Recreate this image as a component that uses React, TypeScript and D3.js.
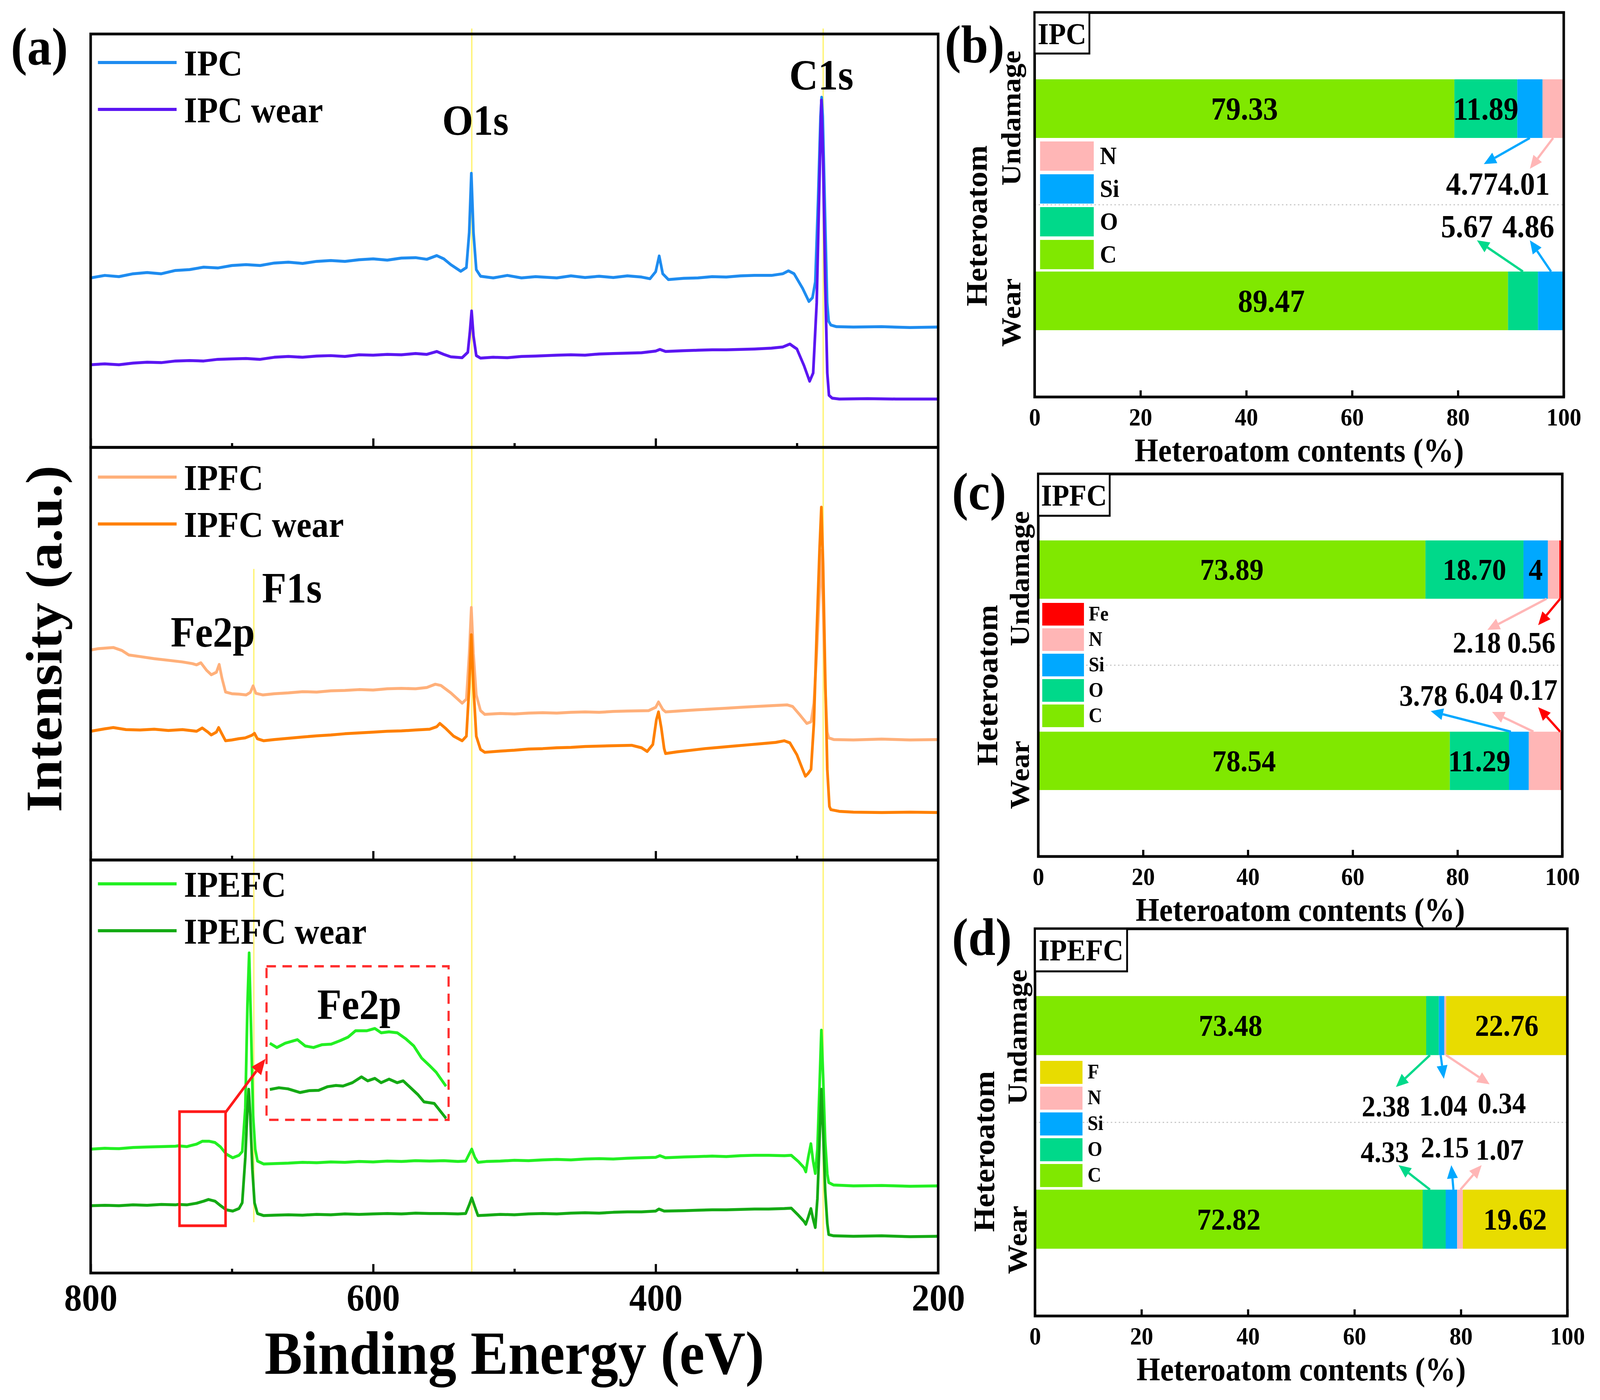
import React from "react";
import * as d3 from "d3";

type Pt = [number, number];

const W = 4412;
const H = 3583;
const FONT = "'Liberation Serif', 'Times New Roman', serif";

// ---------- XPS survey spectra: [binding energy (eV), intensity (a.u., 0-100 per stack row)]
const ipcCurve: Pt[] = [
  [800, 41.0], [790, 41.6], [780, 41.3], [770, 42.0], [760, 42.3], [750, 42.0], [740, 42.8], [730, 43.0],
  [720, 43.6], [710, 43.4], [700, 44.0], [690, 44.2], [680, 44.0], [670, 44.6], [660, 44.8], [650, 44.5],
  [640, 45.0], [630, 45.2], [620, 45.0], [610, 45.4], [600, 45.6], [590, 45.3], [580, 45.8], [570, 45.9],
  [562, 45.5], [555, 46.4], [550, 45.6], [545, 44.2], [538, 42.6], [534, 43.5], [532, 52], [530.5, 66.3],
  [529, 52], [527, 43], [524, 41.4], [515, 41.0], [505, 41.6], [495, 41.0], [485, 41.3], [470, 41.0],
  [460, 41.5], [450, 41.1], [440, 41.4], [430, 41.1], [420, 41.5], [410, 41.2], [404, 40.8], [400, 42.5],
  [397.5, 46.3], [395, 42.0], [391, 40.6], [380, 40.9], [370, 41.0], [360, 41.3], [350, 41.2], [340, 41.5],
  [330, 41.6], [318, 41.6], [310, 42.0], [306, 42.7], [302, 42.0], [296, 38.5], [291.5, 35.3], [289, 36.2],
  [287, 40], [285, 60], [283.3, 80], [282.5, 84.7], [281.7, 80], [280, 55], [278.6, 35], [277.5, 30.5],
  [276, 29.6], [272, 29.2], [260, 29.1], [240, 29.2], [220, 29.0], [200, 29.1],
];
const ipcWearCurve: Pt[] = [
  [800, 20.0], [790, 20.2], [780, 20.0], [770, 20.4], [760, 20.6], [750, 20.5], [740, 20.9], [730, 21.0],
  [720, 20.9], [710, 21.3], [700, 21.4], [690, 21.5], [680, 21.3], [670, 21.8], [660, 22.0], [650, 21.8],
  [640, 22.1], [630, 22.2], [620, 22.0], [610, 22.4], [600, 22.3], [590, 22.5], [580, 22.4], [570, 22.7],
  [562, 22.5], [555, 23.2], [550, 22.5], [545, 21.9], [537, 21.7], [533, 23], [531.5, 28], [530.3, 33],
  [529, 27], [527, 22.2], [524, 21.6], [515, 21.8], [505, 21.7], [495, 22.0], [485, 22.1], [470, 22.3],
  [460, 22.4], [450, 22.3], [440, 22.6], [430, 22.7], [420, 22.8], [410, 22.9], [400, 23.3], [397, 23.7],
  [393, 23.2], [380, 23.4], [370, 23.5], [360, 23.6], [350, 23.6], [340, 23.7], [330, 23.8], [318, 24.0],
  [310, 24.3], [305, 25.0], [300, 23.8], [295, 19.8], [291, 16.0], [288.5, 18], [286, 35], [284, 65],
  [282.7, 84], [281.5, 70], [280, 40], [278.5, 18], [277.3, 12.6], [275, 11.9], [270, 11.7], [250, 11.8],
  [230, 11.7], [200, 11.7],
];
const ipfcCurve: Pt[] = [
  [800, 50.9], [795, 51.2], [784, 51.5], [778, 50.8], [773, 49.7], [765, 49.3], [755, 48.8], [745, 48.4],
  [735, 48.0], [728, 47.6], [725, 47.3], [722, 47.8], [718, 46.0], [714.6, 44.9], [711, 45.5], [709, 47.4],
  [707, 44], [704.5, 40.7], [700, 40.3], [695, 40.2], [690, 40.0], [687, 40.6], [685, 42.2], [683, 40.4],
  [678, 40.0], [670, 40.3], [660, 40.5], [650, 40.8], [640, 40.7], [630, 41.0], [620, 41.1], [610, 41.3],
  [600, 41.2], [590, 41.5], [580, 41.6], [570, 41.5], [562, 41.8], [556, 42.6], [552, 42.3], [545, 40.5],
  [537, 38.0], [534, 39], [532, 50], [530.5, 61.2], [529, 50], [527, 40], [524, 36.2], [521, 35.3],
  [510, 35.5], [500, 35.4], [490, 35.6], [480, 35.7], [470, 35.6], [460, 35.8], [450, 35.9], [440, 35.8],
  [430, 36.0], [420, 36.1], [405, 36.2], [400, 37.0], [398, 38.3], [395, 36.5], [393, 35.9], [380, 36.2],
  [370, 36.4], [360, 36.6], [350, 36.8], [340, 37.0], [330, 37.2], [318, 37.4], [307, 37.6], [303, 37.2],
  [298, 35.2], [293, 33.1], [290, 33.5], [288, 38], [286, 50], [284, 65], [282.8, 75], [281.5, 62],
  [280, 42], [278.5, 31], [277.5, 29.6], [274, 29.2], [260, 29.1], [240, 29.3], [220, 29.1], [200, 29.2],
];
const ipfcWearCurve: Pt[] = [
  [800, 31.2], [790, 31.8], [784, 32.1], [775, 31.6], [765, 31.5], [755, 31.7], [745, 31.4], [735, 31.6],
  [725, 31.2], [721, 32.0], [717, 31.0], [714.6, 30.3], [711, 31.0], [709.4, 32.1], [707, 30.5], [704.5, 28.9],
  [700, 29.1], [695, 29.4], [690.6, 29.6], [686, 30.2], [684, 30.7], [682, 29.4], [677.5, 28.9], [670, 29.2],
  [660, 29.5], [650, 29.8], [640, 30.1], [630, 30.3], [620, 30.6], [610, 30.8], [600, 31.0], [590, 31.2],
  [580, 31.3], [570, 31.5], [560, 31.7], [555, 32.3], [552.8, 33.1], [549, 32.0], [543, 30.0], [537, 28.9],
  [534, 30], [532, 42], [530.5, 54.6], [529, 42], [527, 30], [524, 26.8], [521, 26.1], [510, 26.4],
  [500, 26.6], [490, 26.9], [480, 27.0], [470, 27.2], [460, 27.3], [450, 27.5], [440, 27.6], [430, 27.7],
  [417, 27.8], [410, 27.2], [406, 26.3], [402, 28], [399.5, 34], [398, 35.9], [396, 32], [394, 27],
  [393, 25.8], [385, 26.2], [375, 26.6], [365, 27.0], [355, 27.3], [345, 27.6], [335, 27.9], [325, 28.2],
  [315, 28.5], [309, 28.9], [305, 28.4], [300, 25.5], [296, 22], [294, 20.3], [292, 21], [290, 22],
  [288, 33], [286, 55], [284, 75], [282.7, 85.5], [281.5, 72], [280, 45], [278.5, 22], [277, 13],
  [276, 12.2], [270, 11.8], [260, 11.6], [240, 11.5], [220, 11.6], [200, 11.5],
];
const ipefcCurve: Pt[] = [
  [800, 30.0], [790, 30.2], [780, 30.1], [770, 30.4], [760, 30.5], [750, 30.6], [740, 30.7], [738, 30.8],
  [732, 30.6], [729.7, 30.8], [725, 31.2], [721, 31.9], [716, 31.9], [712, 31.6], [708, 30.5], [704, 28.8],
  [699.4, 27.9], [695, 28.5], [692.7, 29.4], [690.5, 40], [689, 65], [687.8, 77.5], [686.5, 60], [685, 38],
  [683.5, 30], [681.9, 27.1], [677.5, 26.4], [670, 26.5], [660, 26.6], [650, 26.8], [640, 26.7], [630, 26.9],
  [620, 26.8], [610, 27.0], [600, 26.9], [590, 27.1], [580, 27.0], [570, 27.2], [560, 27.1], [550, 27.2],
  [540, 27.0], [534.5, 27.1], [532, 28.8], [530.2, 30.0], [528, 28], [525.8, 26.8], [520, 27.0], [510, 27.1],
  [500, 27.3], [490, 27.2], [480, 27.4], [470, 27.5], [460, 27.4], [450, 27.6], [440, 27.7], [430, 27.6],
  [420, 27.8], [410, 27.9], [400, 28.0], [397, 28.4], [393, 27.9], [380, 28.1], [370, 28.2], [360, 28.3],
  [350, 28.2], [340, 28.4], [330, 28.5], [320, 28.5], [308.9, 28.4], [304, 28.5], [299, 27], [295, 25.5],
  [293.7, 24.5], [292, 28], [290.1, 31.3], [288.5, 27], [287, 24.1], [285.5, 30], [284, 45], [282.7, 58.8],
  [281.5, 48], [280, 32], [278.5, 24], [277.5, 21.9], [274, 21.3], [260, 21.1], [240, 21.2], [220, 21.0],
  [200, 21.1],
];
const ipefcWearCurve: Pt[] = [
  [800, 16.3], [790, 16.4], [780, 16.3], [770, 16.5], [760, 16.4], [750, 16.6], [740, 16.5], [738, 16.6],
  [732, 16.5], [725, 16.9], [720, 17.4], [716.6, 17.8], [712, 17.4], [708, 16.3], [704, 15.3], [699.4, 15.0],
  [695, 15.6], [692.7, 17], [690.5, 28], [689, 40], [688.1, 44.5], [687, 38], [685.5, 25], [684, 17],
  [681.9, 14.4], [677.5, 13.9], [670, 14.0], [660, 14.1], [650, 14.0], [640, 14.2], [630, 14.1], [620, 14.3],
  [610, 14.2], [600, 14.3], [590, 14.4], [580, 14.3], [570, 14.5], [560, 14.4], [550, 14.4], [540, 14.3],
  [534.5, 14.4], [532, 16.5], [530.2, 18.2], [528, 16], [525.8, 13.9], [520, 14.0], [510, 14.2], [500, 14.1],
  [490, 14.3], [480, 14.4], [470, 14.3], [460, 14.5], [450, 14.6], [440, 14.5], [430, 14.7], [420, 14.8],
  [410, 14.8], [400, 15.0], [397.7, 15.5], [394, 15.0], [380, 15.1], [370, 15.2], [360, 15.3], [350, 15.3],
  [340, 15.4], [330, 15.5], [320, 15.5], [308.9, 15.6], [304, 15.7], [299, 14.0], [295, 12.5], [293.7, 11.8],
  [292, 13.5], [290.1, 15.6], [288.5, 13], [287, 11.0], [285.5, 18], [284, 32], [282.7, 44.5], [281.5, 35],
  [280, 20], [278.5, 12], [277.5, 9.3], [274, 9.0], [260, 8.9], [240, 9.0], [220, 8.8], [200, 8.9],
];
// magnified Fe2p window (inset)
const ipefcZoom: Pt[] = [
  [744.9, 49.9], [743.1, 47.1], [741.0, 49.9], [737.9, 52.2], [735.9, 48.1], [733.8, 47.1], [731.7, 48.9],
  [729.3, 49.3], [727.0, 51.6], [725.0, 53.9], [723.1, 58.0], [720.3, 58.0], [718.2, 59.5], [716.6, 56.7],
  [714.6, 57.3], [712.5, 56.7], [710.3, 52.7], [708.3, 48.1], [706.3, 40.2], [704.4, 35.6], [702.6, 31.0],
  [700.1, 21.9],
];
const ipefcWearZoom: Pt[] = [
  [744.9, 19.8], [742.6, 20.9], [740.3, 20.2], [737.2, 17.8], [734.9, 19.0], [732.5, 19.2], [730.2, 21.6],
  [728.1, 22.4], [726.3, 22.0], [723.9, 24.2], [721.6, 28.0], [720.0, 25.4], [718.2, 27.0], [716.6, 24.2],
  [714.6, 26.5], [712.5, 24.2], [711.0, 25.4], [709.4, 21.6], [707.2, 16.3], [705.7, 11.7], [703.1, 10.7],
  [700.1, 1.0],
];

const energyMajor = [800, 600, 400, 200];
const energyMinor = [700, 500, 300];
const guideEnergies = [530.2, 281.4]; // O1s, C1s
const f1sGuide = 684.5;

// ---------- heteroatom contents (%)
const categories = ["Undamage", "Wear"];
const pctTicks = [0, 20, 40, 60, 80, 100];

const ipcElements = ["C", "O", "Si", "N"];
const ipcUndamage = [79.33, 11.89, 4.77, 4.01];
const ipcWear = [89.47, 5.67, 4.86];

const ipfcElements = ["C", "O", "Si", "N", "Fe"];
const ipfcUndamage = [73.89, 18.7, 4.67, 2.18, 0.56];
const ipfcWear = [78.54, 11.29, 3.78, 6.04, 0.17];

const ipefcElements = ["C", "O", "Si", "N", "F"];
const ipefcUndamage = [73.48, 2.38, 1.04, 0.34, 22.76];
const ipefcWear = [72.82, 4.33, 2.15, 1.07, 19.62];

const elementColor: Record<string, string> = {
  C: "#80E800",
  O: "#00D98A",
  Si: "#00A8FF",
  N: "#FFB6B6",
  Fe: "#FF0000",
  F: "#E8DC00",
};

// ---------- layout
const A = { left: 250, right: 2587, bottom: 3258 };
const spectraRows = [
  { top: 87, bottom: 1145, legendDy: 73, series: [
    { name: "IPC", data: ipcCurve, color: "#1E8CF0" },
    { name: "IPC wear", data: ipcWearCurve, color: "#5B16F2" },
  ] },
  { top: 1145, bottom: 2201, legendDy: 76, series: [
    { name: "IPFC", data: ipfcCurve, color: "#FFB07A" },
    { name: "IPFC wear", data: ipfcWearCurve, color: "#FF8000" },
  ] },
  { top: 2201, bottom: 3258, legendDy: 61, series: [
    { name: "IPEFC", data: ipefcCurve, color: "#22F022" },
    { name: "IPEFC wear", data: ipefcWearCurve, color: "#14AA14" },
  ] },
];

type Note = { bar: number; seg: number; from: number; to: Pt; label: Pt; text?: string };
type Inside = { bar: number; seg: number; text?: string };

const barPanels = [
  {
    tag: "(b)", name: "IPC", elements: ipcElements, bars: [ipcUndamage, ipcWear],
    left: 2853, top: 32, width: 1459, height: 984, boxW: 151, boxH: 105,
    legend: { dx: 15, dy: 330, w: 148, h: 75, step: 84, font: 64, textDx: 180, textDy: 58 },
    inFont: 82, noteFont: 82, tagPos: [2605, 159], catX: -40, catDy: [24, 30], hetX: -132, hetY: 546,
    inside: [{ bar: 0, seg: 0 }, { bar: 0, seg: 1 }, { bar: 1, seg: 0 }] as Inside[],
    notes: [
      { bar: 0, seg: 2, from: 93.6, to: [84.9, 388], label: [82.66, 466] },
      { bar: 0, seg: 3, from: 98.0, to: [93.6, 400], label: [92.46, 466] },
      { bar: 1, seg: 1, from: 92.3, to: [83.6, 583], label: [81.7, 575] },
      { bar: 1, seg: 2, from: 97.6, to: [93.6, 583], label: [93.3, 575] },
    ] as Note[],
  },
  {
    tag: "(c)", name: "IPFC", elements: ipfcElements, bars: [ipfcUndamage, ipfcWear],
    left: 2863, top: 1213, width: 1445, height: 979, boxW: 197, boxH: 107,
    legend: { dx: 11, dy: 330, w: 115, h: 58, step: 65, font: 52, textDx: 139, textDy: 45 },
    inFont: 78, noteFont: 76, tagPos: [2625, 1304], catX: -26, catDy: [23, 36], hetX: -113, hetY: 541,
    inside: [{ bar: 0, seg: 0 }, { bar: 0, seg: 1 }, { bar: 0, seg: 2, text: "4" }, { bar: 1, seg: 0 }, { bar: 1, seg: 1 }] as Inside[],
    notes: [
      { bar: 0, seg: 3, from: 97.0, to: [85.7, 399], label: [83.7, 457] },
      { bar: 0, seg: 4, from: 99.6, to: [95.4, 387], label: [94.1, 457] },
      { bar: 1, seg: 2, from: 90.2, to: [74.9, 607], label: [73.5, 593] },
      { bar: 1, seg: 3, from: 94.5, to: [86.6, 609], label: [84.1, 586] },
      { bar: 1, seg: 4, from: 99.6, to: [95.4, 597], label: [94.5, 578] },
    ] as Note[],
  },
  {
    tag: "(d)", name: "IPEFC", elements: ipefcElements, bars: [ipefcUndamage, ipefcWear],
    left: 2854, top: 2377, width: 1468, height: 991, boxW: 254, boxH: 109,
    legend: { dx: 14, dy: 338, w: 117, h: 59, step: 66, font: 52, textDx: 145, textDy: 45 },
    inFont: 78, noteFont: 76, tagPos: [2625, 2444], catX: -23, catDy: [29, 53], hetX: -113, hetY: 570,
    inside: [{ bar: 0, seg: 0 }, { bar: 0, seg: 4 }, { bar: 1, seg: 0 }, { bar: 1, seg: 4 }] as Inside[],
    notes: [
      { bar: 0, seg: 1, from: 74.2, to: [67.8, 405], label: [65.9, 480] },
      { bar: 0, seg: 2, from: 76.2, to: [76.8, 384], label: [76.7, 478] },
      { bar: 0, seg: 3, from: 77.2, to: [85.4, 398], label: [87.7, 472] },
      { bar: 1, seg: 1, from: 74.2, to: [68.3, 605], label: [65.7, 597] },
      { bar: 1, seg: 2, from: 78.6, to: [78.2, 605], label: [77.0, 585] },
      { bar: 1, seg: 3, from: 79.9, to: [83.9, 605], label: [87.3, 591] },
    ] as Note[],
  },
];

type G = d3.Selection<SVGGElement, unknown, null, undefined>;

function arrow(g: G, x1: number, y1: number, x2: number, y2: number, color: string, sw = 6, hl = 34, hw = 15) {
  const a = Math.atan2(y2 - y1, x2 - x1);
  const bx = x2 - hl * Math.cos(a);
  const by = y2 - hl * Math.sin(a);
  const px = -Math.sin(a);
  const py = Math.cos(a);
  g.append("line").attr("x1", x1).attr("y1", y1).attr("x2", bx).attr("y2", by)
    .attr("stroke", color).attr("stroke-width", sw);
  g.append("path")
    .attr("d", `M${x2},${y2}L${bx + px * hw},${by + py * hw}L${bx - px * hw},${by - py * hw}Z`)
    .attr("fill", color);
}

function drawSpectra(g: G) {
  const x = d3.scaleLinear().domain([800, 200]).range([A.left, A.right]);

  // peak guide lines
  guideEnergies.forEach((e) => {
    g.append("line").attr("x1", x(e)).attr("x2", x(e)).attr("y1", 73).attr("y2", A.bottom)
      .attr("stroke", "#FFF47A").attr("stroke-width", 4);
  });
  g.append("line").attr("x1", x(f1sGuide)).attr("x2", x(f1sGuide)).attr("y1", 1456).attr("y2", 3128)
    .attr("stroke", "#FFF47A").attr("stroke-width", 4);

  spectraRows.forEach((row, ri) => {
    const y = d3.scaleLinear().domain([0, 100]).range([row.bottom, row.top]);
    const line = d3.line<Pt>().x((d) => x(d[0])).y((d) => y(d[1]));

    row.series.forEach((s) => {
      g.append("path").datum(s.data).attr("d", line).attr("fill", "none")
        .attr("stroke", s.color).attr("stroke-width", 7.5).attr("stroke-linejoin", "round");
    });

    row.series.forEach((s, i) => {
      const ly = row.top + row.legendDy + i * 120;
      g.append("line").attr("x1", 270).attr("x2", 487).attr("y1", ly).attr("y2", ly)
        .attr("stroke", s.color).attr("stroke-width", 8);
      g.append("text").attr("x", 507).attr("y", ly + 33).attr("font-size", 94).text(s.name);
    });

    g.append("rect").attr("x", A.left).attr("y", row.top)
      .attr("width", A.right - A.left).attr("height", row.bottom - row.top)
      .attr("fill", "none").attr("stroke", "#000").attr("stroke-width", 7);

    const major = g.append("g").attr("transform", `translate(0,${row.bottom})`)
      .call(
        d3.axisBottom(x).tickValues(energyMajor).tickSizeInner(-23).tickSizeOuter(0).tickPadding(26)
          .tickFormat((d) => (ri === 2 ? `${d}` : ""))
      );
    major.select(".domain").remove();
    major.attr("font-family", FONT).attr("font-size", 98);
    major.selectAll("line").attr("stroke-width", 6);

    const minor = g.append("g").attr("transform", `translate(0,${row.bottom})`)
      .call(d3.axisBottom(x).tickValues(energyMinor).tickSizeInner(-11).tickSizeOuter(0).tickFormat(() => ""));
    minor.select(".domain").remove();
    minor.selectAll("line").attr("stroke-width", 6);
  });

  // peak labels
  const peakLabels: [string, number, number][] = [
    ["O1s", 527.6, 345],
    ["C1s", 282.7, 229],
    ["F1s", 657.5, 1542],
    ["Fe2p", 713.5, 1655],
    ["Fe2p", 609.8, 2608],
  ];
  peakLabels.forEach(([t, e, yy]) => {
    g.append("text").attr("x", x(e)).attr("y", yy).attr("text-anchor", "middle")
      .attr("font-size", 110).text(t);
  });

  // Fe2p magnified inset
  const box = { e0: 675.5, e1: 546.6, top: 2473, bottom: 2866 };
  g.append("rect").attr("x", x(box.e0)).attr("y", box.top)
    .attr("width", x(box.e1) - x(box.e0)).attr("height", box.bottom - box.top)
    .attr("fill", "none").attr("stroke", "#FF3030").attr("stroke-width", 6).attr("stroke-dasharray", "26,18");
  const xi = d3.scaleLinear().domain([745, 700]).range([743, 1231]);
  const yi = d3.scaleLinear().domain([0, 100]).range([box.bottom, box.top]);
  const insetLine = d3.line<Pt>().x((d) => xi(d[0])).y((d) => yi(d[1]));
  g.append("path").datum(ipefcZoom).attr("d", insetLine).attr("fill", "none")
    .attr("stroke", "#22F022").attr("stroke-width", 7.5).attr("stroke-linejoin", "round");
  g.append("path").datum(ipefcWearZoom).attr("d", insetLine).attr("fill", "none")
    .attr("stroke", "#14AA14").attr("stroke-width", 7.5).attr("stroke-linejoin", "round");

  const sel = { e0: 737.1, e1: 704.5, top: 2845, bottom: 3137 };
  g.append("rect").attr("x", x(sel.e0)).attr("y", sel.top)
    .attr("width", x(sel.e1) - x(sel.e0)).attr("height", sel.bottom - sel.top)
    .attr("fill", "none").attr("stroke", "#FF1A1A").attr("stroke-width", 7);
  arrow(g, x(sel.e1), sel.top + 2, x(box.e0) - 3, 2710, "#FF1A1A", 7, 40, 17);

  // axis titles
  g.append("text").attr("x", 30).attr("y", 165).attr("font-size", 135).text("(a)");
  g.append("text").attr("transform", "translate(169,1635) rotate(-90)").attr("text-anchor", "middle")
    .attr("font-size", 142).text("Intensity (a.u.)");
  g.append("text").attr("x", (A.left + A.right) / 2).attr("y", 3516).attr("text-anchor", "middle")
    .attr("font-size", 156).text("Binding Energy (eV)");
}

function drawBars(g: G, p: (typeof barPanels)[number]) {
  const x = d3.scaleLinear().domain([0, 100]).range([p.left, p.left + p.width]);
  const y = d3.scaleBand().domain(categories).range([p.top, p.top + p.height])
    .paddingInner(0.695).paddingOuter(0.3475);
  const bw = y.bandwidth();
  const bottom = p.top + p.height;
  const midY = p.top + p.height / 2;

  g.append("line").attr("x1", p.left).attr("x2", p.left + p.width).attr("y1", midY).attr("y2", midY)
    .attr("stroke", "#C8C8C8").attr("stroke-width", 3).attr("stroke-dasharray", "4,7");

  p.bars.forEach((vals, bi) => {
    const cat = categories[bi];
    const ends = Array.from(d3.cumsum(vals));
    vals.forEach((v, si) => {
      const x0 = x(ends[si] - v);
      const x1 = x(ends[si]);
      g.append("rect").attr("x", x0).attr("y", y(cat)!).attr("width", x1 - x0).attr("height", bw)
        .attr("fill", elementColor[p.elements[si]]);
    });
  });

  p.inside.forEach((lab) => {
    const vals = p.bars[lab.bar];
    const ends = Array.from(d3.cumsum(vals));
    const mid = ends[lab.seg] - vals[lab.seg] / 2;
    g.append("text").attr("x", x(mid)).attr("y", y(categories[lab.bar])! + bw / 2 + 0.34 * p.inFont)
      .attr("text-anchor", "middle").attr("font-size", p.inFont)
      .text(lab.text ?? vals[lab.seg].toFixed(2));
  });

  p.notes.forEach((n) => {
    const color = elementColor[p.elements[n.seg]];
    const sy = n.bar === 0 ? y(categories[0])! + bw : y(categories[1])!;
    arrow(g, x(n.from), sy, x(n.to[0]), p.top + n.to[1], color);
    g.append("text").attr("x", x(n.label[0])).attr("y", p.top + n.label[1])
      .attr("text-anchor", "middle").attr("font-size", p.noteFont)
      .text(n.text ?? p.bars[n.bar][n.seg].toFixed(2));
  });

  // legend
  const lg = p.legend;
  p.elements.slice().reverse().forEach((el, i) => {
    const ty = p.top + lg.dy + i * lg.step;
    g.append("rect").attr("x", p.left + lg.dx).attr("y", ty).attr("width", lg.w).attr("height", lg.h)
      .attr("fill", elementColor[el]);
    g.append("text").attr("x", p.left + lg.textDx).attr("y", ty + lg.textDy).attr("font-size", lg.font).text(el);
  });

  // frame and axis
  g.append("rect").attr("x", p.left).attr("y", p.top).attr("width", p.width).attr("height", p.height)
    .attr("fill", "none").attr("stroke", "#000").attr("stroke-width", 7);

  const ax = g.append("g").attr("transform", `translate(0,${bottom})`)
    .call(d3.axisBottom(x).tickValues(pctTicks).tickSizeInner(-17).tickSizeOuter(0).tickPadding(28)
      .tickFormat((d) => `${d}`));
  ax.select(".domain").remove();
  ax.attr("font-family", FONT).attr("font-size", 64);
  ax.selectAll("line").attr("stroke-width", 6);

  g.append("text").attr("x", p.left + p.width / 2).attr("y", bottom + 165).attr("text-anchor", "middle")
    .attr("font-size", 84).text("Heteroatom contents (%)");

  // category labels
  categories.forEach((c, ci) => {
    const cy = y(c)! + bw / 2 + p.catDy[ci];
    g.append("text").attr("transform", `translate(${p.left + p.catX},${cy}) rotate(-90)`)
      .attr("text-anchor", "middle").attr("font-size", 75).text(c);
  });
  g.append("text").attr("transform", `translate(${p.left + p.hetX},${p.top + p.hetY}) rotate(-90)`)
    .attr("text-anchor", "middle").attr("font-size", 81).text("Heteroatom");

  // sample name box
  g.append("rect").attr("x", p.left).attr("y", p.top).attr("width", p.boxW).attr("height", p.boxH)
    .attr("fill", "#fff").attr("stroke", "#000").attr("stroke-width", 5);
  g.append("text").attr("x", p.left + p.boxW / 2).attr("y", p.top + 81).attr("text-anchor", "middle")
    .attr("font-size", 78).text(p.name);

  g.append("text").attr("x", p.tagPos[0]).attr("y", p.tagPos[1]).attr("font-size", 135).text(p.tag);
}

const App: React.FC = () => {
  const svgRef = React.useRef<SVGSVGElement | null>(null);

  React.useEffect(() => {
    if (!svgRef.current) return;
    const svg = d3.select(svgRef.current);
    svg.selectAll("*").remove();
    svg.append("rect").attr("width", W).attr("height", H).attr("fill", "#fff");
    drawSpectra(svg.append("g"));
    barPanels.forEach((p) => drawBars(svg.append("g"), p));
  }, []);

  return (
    <svg
      ref={svgRef}
      viewBox={`0 0 ${W} ${H}`}
      preserveAspectRatio="none"
      style={{ position: "fixed", left: 0, top: 0, width: "100vw", height: "100vh", display: "block" }}
      fontFamily={FONT}
      fontWeight="bold"
    />
  );
};

export default App;
